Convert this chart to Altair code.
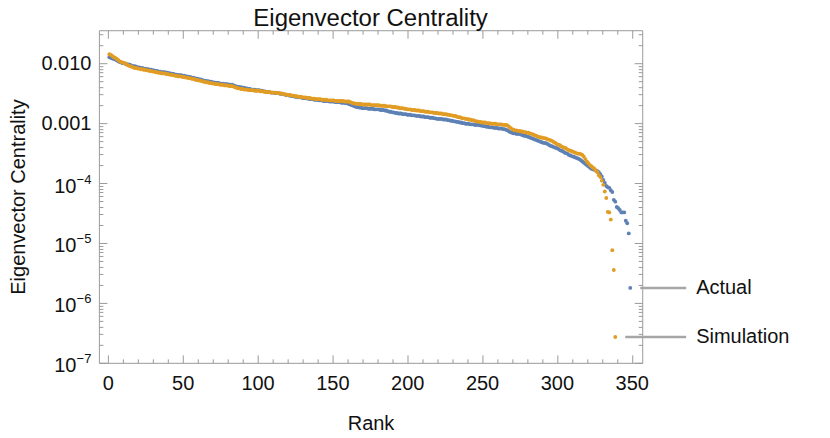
import altair as alt
import pandas as pd

TITLE = "Eigenvector Centrality"
X_TITLE = "Rank"
Y_TITLE = "Eigenvector Centrality"
SERIES = ["Actual", "Simulation"]
COLORS = ["#5E81B5", "#E19C24"]
FONT = "Liberation Sans"
AXIS_GRAY = "#9a9a9a"

# log10 of eigenvector centrality, by rank (1, 2, 3, ...)
ACTUAL_LOG10 = [
    -1.90, -1.91, -1.92, -1.93, -1.94, -1.95, -1.97, -1.98, -1.99, -2.00,
    -2.00, -2.01, -2.02, -2.02, -2.03, -2.04, -2.05, -2.05, -2.06, -2.07,
    -2.07, -2.08, -2.08, -2.09, -2.09, -2.10, -2.10, -2.11, -2.11, -2.12,
    -2.12, -2.13, -2.13, -2.14, -2.14, -2.15, -2.15, -2.15, -2.16, -2.16,
    -2.17, -2.17, -2.18, -2.18, -2.19, -2.19, -2.20, -2.20, -2.20, -2.21,
    -2.21, -2.22, -2.22, -2.23, -2.23, -2.24, -2.24, -2.25, -2.26, -2.26,
    -2.27, -2.27, -2.28, -2.29, -2.29, -2.30, -2.30, -2.31, -2.31, -2.32,
    -2.32, -2.33, -2.33, -2.33, -2.34, -2.34, -2.34, -2.35, -2.35, -2.35,
    -2.36, -2.36, -2.36, -2.37, -2.38, -2.39, -2.39, -2.40, -2.40, -2.41,
    -2.41, -2.42, -2.42, -2.43, -2.43, -2.44, -2.44, -2.44, -2.45, -2.45,
    -2.45, -2.46, -2.46, -2.47, -2.47, -2.48, -2.48, -2.48, -2.49, -2.49,
    -2.49, -2.50, -2.50, -2.50, -2.51, -2.51, -2.52, -2.52, -2.53, -2.53,
    -2.54, -2.54, -2.55, -2.55, -2.56, -2.56, -2.57, -2.57, -2.57, -2.58,
    -2.58, -2.58, -2.59, -2.59, -2.60, -2.60, -2.60, -2.61, -2.61, -2.61,
    -2.62, -2.62, -2.62, -2.63, -2.63, -2.63, -2.63, -2.64, -2.64, -2.64,
    -2.64, -2.65, -2.65, -2.65, -2.65, -2.66, -2.66, -2.66, -2.67, -2.67,
    -2.68, -2.69, -2.70, -2.71, -2.72, -2.73, -2.73, -2.74, -2.74, -2.75,
    -2.75, -2.75, -2.75, -2.76, -2.76, -2.76, -2.76, -2.77, -2.77, -2.77,
    -2.77, -2.78, -2.78, -2.78, -2.79, -2.79, -2.80, -2.81, -2.81, -2.82,
    -2.82, -2.83, -2.83, -2.84, -2.84, -2.84, -2.85, -2.85, -2.85, -2.86,
    -2.86, -2.86, -2.87, -2.87, -2.87, -2.88, -2.88, -2.88, -2.89, -2.89,
    -2.89, -2.90, -2.90, -2.90, -2.91, -2.91, -2.91, -2.92, -2.92, -2.93,
    -2.93, -2.93, -2.93, -2.94, -2.94, -2.94, -2.95, -2.95, -2.96, -2.96,
    -2.97, -2.97, -2.98, -2.98, -2.99, -2.99, -3.00, -3.00, -3.01, -3.01,
    -3.01, -3.02, -3.02, -3.02, -3.03, -3.03, -3.03, -3.03, -3.04, -3.04,
    -3.05, -3.05, -3.06, -3.06, -3.07, -3.07, -3.07, -3.08, -3.08, -3.08,
    -3.09, -3.09, -3.09, -3.10, -3.10, -3.11, -3.12, -3.14, -3.15, -3.16,
    -3.17, -3.17, -3.18, -3.18, -3.18, -3.19, -3.20, -3.21, -3.21, -3.22,
    -3.23, -3.24, -3.25, -3.26, -3.27, -3.28, -3.29, -3.30, -3.31, -3.32,
    -3.33, -3.33, -3.34, -3.35, -3.37, -3.38, -3.39, -3.40, -3.41, -3.42,
    -3.43, -3.45, -3.46, -3.47, -3.49, -3.50, -3.51, -3.53, -3.54, -3.55,
    -3.56, -3.57, -3.58, -3.59, -3.60, -3.62, -3.64, -3.66, -3.68, -3.70,
    -3.72, -3.74, -3.76, -3.77, -3.78, -3.79, -3.80, -3.82, -3.85, -3.89,
    -3.95, -4.00, -4.05, -4.07, -4.08, -4.12, -4.15, -4.28, -4.31, -4.40,
    -4.42, -4.45, -4.49, -4.49, -4.49, -4.63, -4.67, -4.84, -5.75,
]

SIMULATION_LOG10 = [
    -1.85, -1.86, -1.88, -1.90, -1.91, -1.93, -1.95, -1.97, -1.98, -1.99,
    -2.00, -2.01, -2.03, -2.04, -2.05, -2.06, -2.07, -2.08, -2.08, -2.09,
    -2.09, -2.10, -2.10, -2.11, -2.11, -2.12, -2.12, -2.13, -2.13, -2.14,
    -2.14, -2.15, -2.15, -2.16, -2.16, -2.17, -2.17, -2.17, -2.18, -2.18,
    -2.19, -2.19, -2.20, -2.20, -2.21, -2.21, -2.22, -2.22, -2.22, -2.23,
    -2.23, -2.24, -2.24, -2.25, -2.25, -2.26, -2.26, -2.27, -2.28, -2.28,
    -2.29, -2.29, -2.30, -2.31, -2.31, -2.32, -2.32, -2.33, -2.33, -2.34,
    -2.34, -2.35, -2.35, -2.35, -2.36, -2.36, -2.36, -2.37, -2.37, -2.37,
    -2.38, -2.38, -2.38, -2.39, -2.40, -2.41, -2.42, -2.42, -2.43, -2.43,
    -2.44, -2.44, -2.44, -2.45, -2.45, -2.45, -2.45, -2.46, -2.46, -2.46,
    -2.46, -2.47, -2.47, -2.47, -2.48, -2.48, -2.48, -2.48, -2.49, -2.49,
    -2.49, -2.49, -2.50, -2.50, -2.50, -2.51, -2.51, -2.52, -2.52, -2.53,
    -2.53, -2.53, -2.54, -2.54, -2.55, -2.55, -2.56, -2.56, -2.56, -2.57,
    -2.57, -2.57, -2.58, -2.58, -2.58, -2.59, -2.59, -2.59, -2.60, -2.60,
    -2.60, -2.60, -2.61, -2.61, -2.61, -2.61, -2.62, -2.62, -2.62, -2.62,
    -2.62, -2.63, -2.63, -2.63, -2.63, -2.63, -2.63, -2.64, -2.64, -2.64,
    -2.64, -2.65, -2.66, -2.67, -2.67, -2.68, -2.68, -2.68, -2.68, -2.69,
    -2.69, -2.69, -2.69, -2.69, -2.69, -2.70, -2.70, -2.70, -2.70, -2.70,
    -2.70, -2.71, -2.71, -2.71, -2.71, -2.72, -2.72, -2.72, -2.72, -2.73,
    -2.73, -2.73, -2.74, -2.74, -2.75, -2.75, -2.75, -2.76, -2.76, -2.77,
    -2.77, -2.77, -2.78, -2.78, -2.78, -2.79, -2.79, -2.79, -2.80, -2.80,
    -2.80, -2.81, -2.81, -2.81, -2.82, -2.82, -2.82, -2.83, -2.83, -2.83,
    -2.84, -2.84, -2.84, -2.85, -2.85, -2.85, -2.86, -2.86, -2.87, -2.87,
    -2.88, -2.88, -2.89, -2.90, -2.90, -2.91, -2.92, -2.92, -2.93, -2.93,
    -2.94, -2.94, -2.95, -2.95, -2.96, -2.97, -2.97, -2.98, -2.98, -2.99,
    -2.99, -2.99, -3.00, -3.00, -3.00, -3.01, -3.01, -3.01, -3.01, -3.02,
    -3.02, -3.02, -3.02, -3.03, -3.03, -3.03, -3.04, -3.06, -3.08, -3.10,
    -3.11, -3.12, -3.12, -3.13, -3.13, -3.14, -3.14, -3.15, -3.15, -3.16,
    -3.16, -3.17, -3.18, -3.19, -3.20, -3.21, -3.22, -3.23, -3.24, -3.24,
    -3.25, -3.25, -3.26, -3.27, -3.28, -3.29, -3.30, -3.32, -3.33, -3.35,
    -3.36, -3.37, -3.39, -3.40, -3.41, -3.42, -3.44, -3.45, -3.46, -3.47,
    -3.48, -3.49, -3.50, -3.51, -3.51, -3.52, -3.53, -3.56, -3.60, -3.64,
    -3.67, -3.70, -3.72, -3.74, -3.76, -3.79, -3.82, -3.87, -3.90, -3.96,
    -4.03, -4.14, -4.25, -4.48, -4.49, -4.61, -5.12, -5.45, -6.57,
]

X_TICKS = list(range(0, 360, 10))
Y_TICKS = [float(f"{k}e{e}") for e in range(-7, -2) for k in range(1, 10)] + [0.01, 0.02, 0.03]
Y_DECIMAL_LABELS = {-2: "0.010", -3: "0.001"}
Y_POWER_EXPONENTS = {-4: "\u22124", -5: "\u22125", -6: "\u22126", -7: "\u22127"}

rows = []
for name, logs in zip(SERIES, [ACTUAL_LOG10, SIMULATION_LOG10]):
    for i, v in enumerate(logs):
        rows.append({"series": name, "rank": i + 1, "value": 10 ** v})
df = pd.DataFrame(rows)

end_rows = []
for name, logs in zip(SERIES, [ACTUAL_LOG10, SIMULATION_LOG10]):
    end_rows.append({"series": name, "rank": len(logs), "value": 10 ** logs[-1]})
ends = pd.DataFrame(end_rows)

x_scale = alt.Scale(domain=[-6, 357], nice=False, zero=False)
y_scale = alt.Scale(type="log", domain=[1e-7, 0.0355], nice=False)
color_scale = alt.Scale(domain=SERIES, range=COLORS)

x_major = "datum.value % 50 === 0"
y_exp = "round(log(datum.value)/LN10)"
y_major = f"abs(log(datum.value)/LN10 - {y_exp}) < 0.001"
y_power = f"({y_major}) && {y_exp} <= -4"

y_label_expr = (
    f"!({y_major}) ? '' : "
    + "".join(f"{y_exp} == {e} ? '{lab}' : " for e, lab in Y_DECIMAL_LABELS.items())
    + f"{y_exp} <= -4 ? '10' : ''"
)
y_exp_label_expr = (
    f"!({y_major}) ? '' : "
    + "".join(f"{y_exp} == {e} ? '{lab}' : " for e, lab in Y_POWER_EXPONENTS.items())
    + "''"
)


def cond(test, yes, no):
    return {"condition": {"test": test, "value": yes}, "value": no}


common = dict(
    domainColor=AXIS_GRAY, tickColor=AXIS_GRAY, grid=False, tickWidth=1,
    labelFont=FONT, labelFontSize=20, labelColor="#111111",
    titleFont=FONT, titleFontSize=20, titleFontWeight="normal", titleColor="#111111",
    labelFlush=False, labelOverlap=False,
)

x_bottom = alt.Axis(orient="bottom", values=X_TICKS, tickSize=cond(x_major, -8, -4),
                    labelExpr=f"{x_major} ? datum.label : ''", labelPadding=19,
                    title=X_TITLE, titlePadding=16, **common)
x_top = alt.Axis(orient="top", values=X_TICKS, tickSize=cond(x_major, -8, -4),
                 labels=False, title="", **common)
y_left = alt.Axis(orient="left", values=Y_TICKS, tickSize=cond(y_major, -8, -4),
                  labelExpr=y_label_expr,
                  labelPadding=cond(y_power, 31, 16),
                  labelOffset=cond(y_power, 3, 0),
                  title=Y_TITLE, titlePadding=12, **common)
y_right = alt.Axis(orient="right", values=Y_TICKS, tickSize=cond(y_major, -8, -4),
                   labels=False, title="", **common)
y_exponents = alt.Axis(orient="left", values=[1e-4, 1e-5, 1e-6, 1e-7],
                       labelExpr=y_exp_label_expr, ticks=False, domain=False, grid=False,
                       labelFont=FONT, labelFontSize=13, labelColor="#111111",
                       labelPadding=8, labelOffset=-4, labelFlush=False,
                       labelOverlap=False, title="")

points = alt.Chart(df).mark_circle(size=15, opacity=1).encode(
    x=alt.X("rank:Q", scale=x_scale, axis=x_bottom),
    y=alt.Y("value:Q", scale=y_scale, axis=y_left),
    color=alt.Color("series:N", scale=color_scale, legend=None),
    order=alt.Order("order_key:Q"),
).transform_calculate(order_key=f"datum.series == '{SERIES[0]}' ? 0 : 1")

leaders = alt.Chart(ends).mark_rule(color="#a6a6a6", strokeWidth=2.5, xOffset=10).encode(
    x=alt.X("rank:Q", scale=x_scale, axis=x_top),
    x2=alt.value(588),
    y=alt.Y("value:Q", scale=y_scale, axis=y_right),
)

labels = alt.Chart(ends).mark_text(align="left", baseline="middle", font=FONT,
                                   fontSize=20, color="#111111").encode(
    x=alt.value(598),
    y=alt.Y("value:Q", scale=y_scale, axis=y_exponents),
    text="series:N",
)

chart = alt.layer(points, leaders, labels).properties(
    width=544, height=333,
    padding={"left": 91, "top": 22, "right": 180, "bottom": 70},
    autosize=alt.AutoSizeParams(type="none"),
    title=alt.TitleParams(text=TITLE, font=FONT, fontSize=24, fontWeight="normal",
                          color="#111111", anchor="middle", offset=4, dy=10),
).configure_view(strokeWidth=0)

chart.save("out.html", embed_options={"renderer": "svg", "actions": False})
